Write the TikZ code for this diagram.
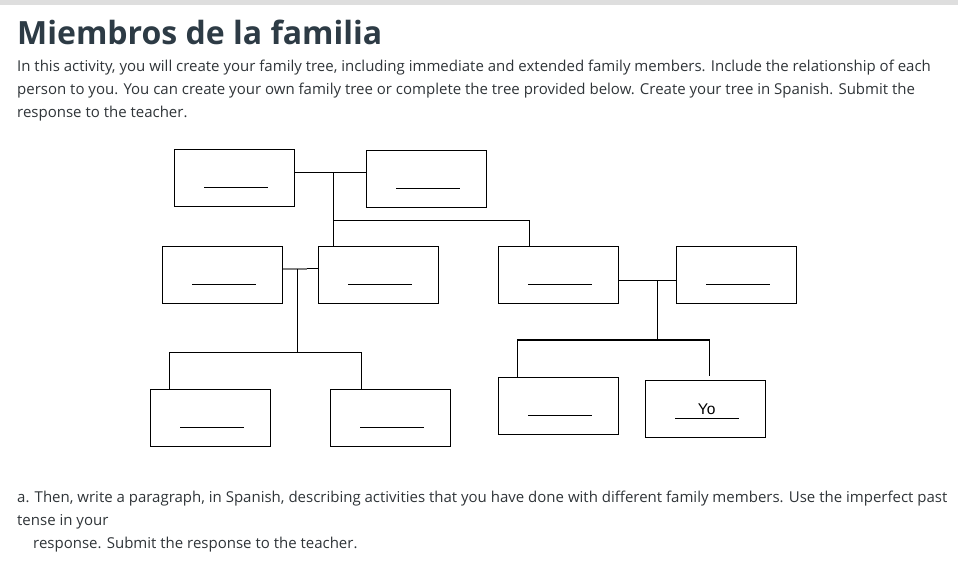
\documentclass[tikz,border=0pt]{standalone}
\usepackage{fontspec}
\setmainfont{Open Sans}
\newfontfamily\yofont{Liberation Sans}
\definecolor{ink}{HTML}{2D3B45}
\definecolor{bodyink}{HTML}{2F3438}
\definecolor{barcol}{HTML}{DEDEDE}
\tikzset{
  famBox/.style={draw=black, line width=1.1pt, minimum width=120pt, minimum height=57pt, inner sep=0pt,
    path picture={\draw[line width=1pt] ([xshift=-30pt,yshift=-9.6pt]path picture bounding box.center) -- ++(63.4pt,0);}},
  conn/.style={draw=black, line width=1.1pt},
  bodytxt/.style={anchor=base west, inner sep=0pt, text=bodyink, font=\fontsize{15pt}{17pt}\selectfont},
}
\begin{document}
\begin{tikzpicture}[x=1pt,y=-1pt]
\useasboundingbox (0,0) rectangle (958,568);
\fill[barcol] (0,0) rectangle (958,4.5);
\node[anchor=base west, inner sep=0pt, text=ink, font=\fontsize{32pt}{36pt}\selectfont\bfseries] (title) at (17,44.5) {Miembros de la familia};
\node[bodytxt] (l1) at (17,71) {In this activity, you will create your family tree, including immediate and extended family members. Include the relationship of each};
\node[bodytxt] (l2) at (17,94) {person to you. You can create your own family tree or complete the tree provided below. Create your tree in Spanish. Submit the};
\node[bodytxt] (l3) at (17,117) {response to the teacher.};
\node[bodytxt] (b1) at (17,502.5) {a. Then, write a paragraph, in Spanish, describing activities that you have done with different family members. Use the imperfect past};
\node[bodytxt] (b2) at (17,525.5) {tense in your};
\node[bodytxt] (b3) at (33,548.5) {response. Submit the response to the teacher.};

% boxes
\node[famBox] (A) at (234.3,177.7) {};
\node[famBox] (B) at (426.3,178.8) {};
\node[famBox] (C) at (222.3,275) {};
\node[famBox] (D) at (378.3,275) {};
\node[famBox] (G) at (558.3,274.7) {};
\node[famBox] (H) at (736.3,274.7) {};
\node[famBox] (E) at (210.3,417.7) {};
\node[famBox] (F) at (390.3,417.7) {};
\node[famBox] (I) at (558.3,405.7) {};
\node[famBox] (J) at (705.3,408.7) {};
\node[anchor=base, inner sep=0pt, font=\yofont\fontsize{15.5pt}{17pt}\selectfont] (yo) at (706.7,414) {Yo};

% connectors: grandparents
\coordinate (ab) at (333.3,172.3);
\coordinate (abm) at (333.3,220.3);
\coordinate (gtop) at (529.3,220.3);
\draw[conn] (A.east |- ab) -- (B.west |- ab);
\draw[conn] (ab) -- (ab |- D.north);
\draw[conn] (abm) -- (gtop) -- (gtop |- G.north);

% C-D couple
\coordinate (cd) at (297.3,268.7);
\coordinate (cdg) at (306.5,268.7);
\coordinate (cdm) at (297.3,352.3);
\coordinate (el) at (169.3,352.3);
\coordinate (fr) at (361.3,352.3);
\draw[line width=1.6pt, draw=gray] (C.east |- cd) -- (cdg);
\draw[conn] (cdg) -- (D.west |- cd);
\draw[conn] (cd) -- (cdm);
\draw[conn] (el |- E.north) -- (el) -- (fr) -- (fr |- F.north);

% G-H couple
\coordinate (gh) at (657.3,280.3);
\coordinate (ghm) at (657.3,340);
\coordinate (il) at (517.3,340);
\coordinate (jr) at (709.3,340);
\coordinate (jend) at (709.3,376);
\draw[conn] (G.east |- gh) -- (H.west |- gh);
\draw[conn] (gh) -- (ghm);
\draw[conn] (il |- I.north) -- (il) -- (jr) -- (jend);
\end{tikzpicture}
\end{document}
